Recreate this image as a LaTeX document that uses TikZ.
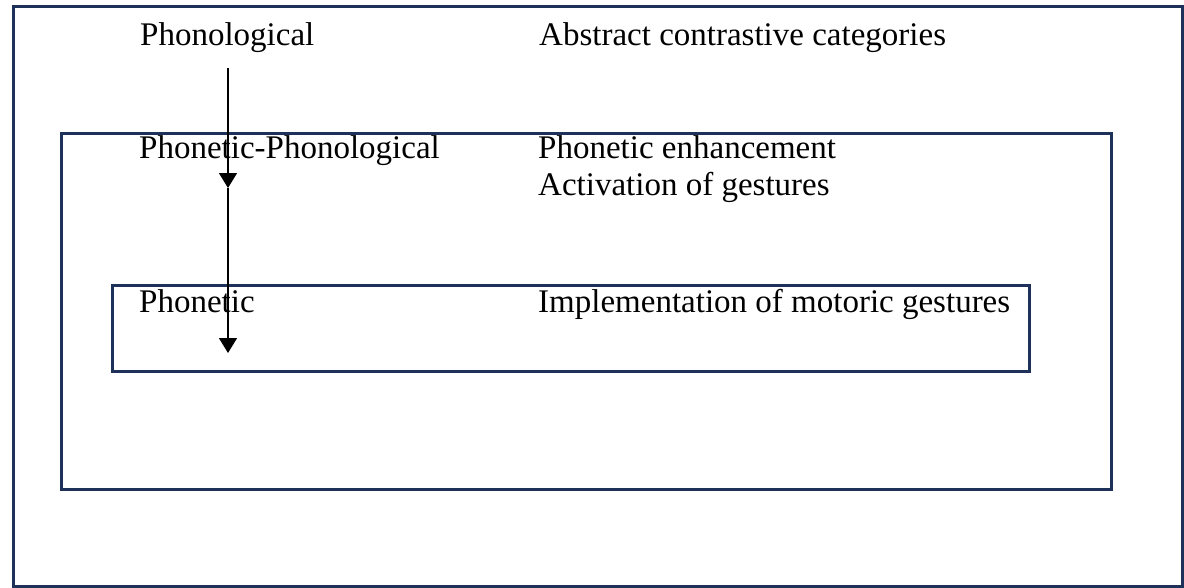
\documentclass[tikz,border=0pt]{standalone}
\usepackage{fontspec}
\setmainfont{Liberation Serif}
\usetikzlibrary{arrows.meta}
\definecolor{framenavy}{HTML}{1D3159}
\begin{document}
\begin{tikzpicture}[x=1pt,y=-1pt,
  frame/.style={draw=framenavy,line width=3pt},
  lbl/.style={anchor=base west,inner sep=0pt,font=\fontsize{33}{38}\selectfont},
  flow/.style={line width=1.4pt,-{Triangle[length=15pt,width=18pt]}}]
  \useasboundingbox (0,0) rectangle (1184,587);
  % nested level frames
  \draw[frame] (13,6) rectangle (1182,586);
  \draw[frame] (61,133) rectangle (1111,489);
  \draw[frame] (112,285) rectangle (1029,371);
  % level names
  \node[lbl] (phon) at (140,45) {Phonological};
  \node[lbl] (phph) at (139,158) {Phonetic-Phonological};
  \node[lbl] (phnt) at (139,312) {Phonetic};
  % descriptions
  \node[lbl] (abst) at (539,45) {Abstract contrastive categories};
  \node[lbl] (enh) at (538,158) {Phonetic enhancement};
  \node[lbl] (act) at (538,195) {Activation of gestures};
  \node[lbl] (impl) at (538,312) {Implementation of motoric gestures};
  % derivation arrow
  \coordinate (a0) at (228,68);
  \coordinate (a1) at (228,188);
  \coordinate (a2) at (228,353);
  \draw[flow] (a0) -- (a1);
  \draw[flow] (a1) -- (a2);
\end{tikzpicture}
\end{document}
